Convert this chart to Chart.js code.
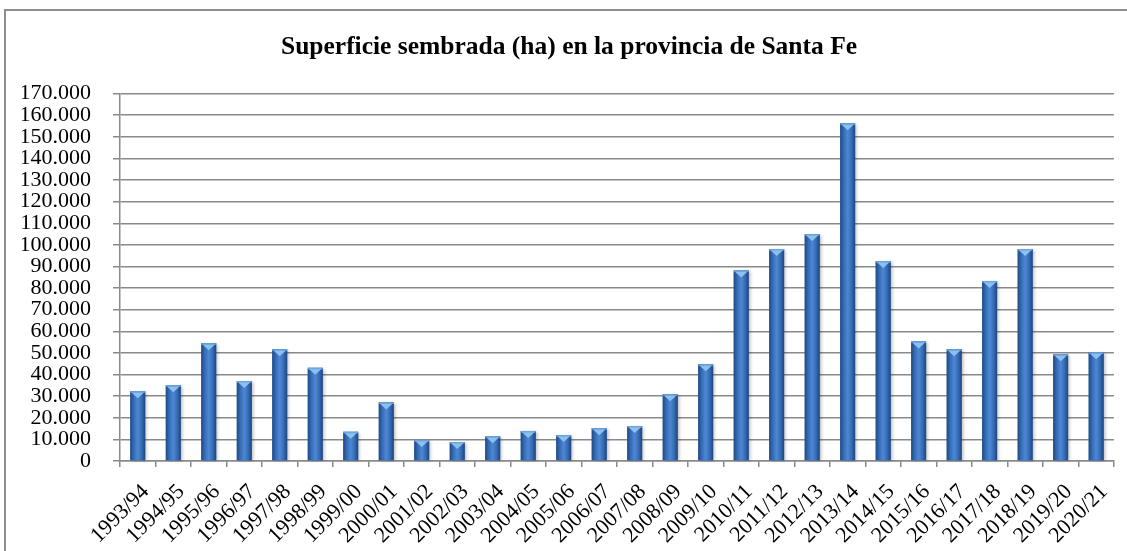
<!DOCTYPE html>
<html lang="es">
<head>
    <meta charset="UTF-8">
    <title>Superficie sembrada</title>
    <script src="https://cdn.jsdelivr.net/npm/chart.js@4.4.1/dist/chart.umd.min.js"></script>
    <style>
        html, body { margin: 0; padding: 0; background: #fff; overflow: hidden; }
        #frame {
            position: absolute; left: 4px; top: 9px; width: 1200px; height: 700px;
            border-left: 2px solid #8e8e8e; border-top: 2px solid #8e8e8e;
        }
        #wrap { position: absolute; left: 0; top: 0; width: 1127px; height: 551px; }
    </style>
</head>
<body>
<div id="frame"></div>
<div id="wrap">
    <canvas id="superficie" width="1127" height="551"></canvas>
</div>
<script>
    var campanias = ["1993/94", "1994/95", "1995/96", "1996/97", "1997/98", "1998/99", "1999/00",
        "2000/01", "2001/02", "2002/03", "2003/04", "2004/05", "2005/06", "2006/07", "2007/08",
        "2008/09", "2009/10", "2010/11", "2011/12", "2012/13", "2013/14", "2014/15", "2015/16",
        "2016/17", "2017/18", "2018/19", "2019/20", "2020/21"];
    var hectareas = [32300, 35100, 54500, 37000, 51700, 43100, 13500,
        27100, 9700, 8800, 11500, 13900, 12000, 15200, 16200,
        30900, 44800, 88200, 98100, 105000, 156300, 92500, 55300,
        51700, 83300, 98100, 49400, 50300];
    var yMax = 170000;
    var yStep = 10000;

    function puntos(v) {
        return String(v).replace(/\B(?=(\d{3})+(?!\d))/g, ".");
    }

    // bar shading: horizontal gradient + light triangle on top
    var barShading = {
        id: 'barShading',
        afterDatasetsDraw: function (chart) {
            var ctx = chart.ctx;
            var meta = chart.getDatasetMeta(0);
            meta.data.forEach(function (bar) {
                var left = bar.x - bar.width / 2;
                var right = bar.x + bar.width / 2;
                var top = bar.y;
                var bottom = bar.base;
                ctx.save();
                ctx.shadowColor = 'rgba(0,0,0,0.25)';
                ctx.shadowOffsetX = 2;
                ctx.shadowOffsetY = 1;
                ctx.shadowBlur = 3;
                var g = ctx.createLinearGradient(left, 0, right, 0);
                g.addColorStop(0, '#1f4a86');
                g.addColorStop(0.25, '#386db7');
                g.addColorStop(0.5, '#4d88d4');
                g.addColorStop(0.75, '#386db7');
                g.addColorStop(1, '#1d467f');
                ctx.fillStyle = g;
                ctx.fillRect(left, top, right - left, bottom - top);
                ctx.restore();

                ctx.save();
                var tri = Math.min(7, bottom - top);
                ctx.fillStyle = '#8cc0ee';
                ctx.beginPath();
                ctx.moveTo(left + 1, top + 1);
                ctx.lineTo(right - 1, top + 1);
                ctx.lineTo(bar.x, top + tri);
                ctx.closePath();
                ctx.fill();
                ctx.fillStyle = '#6fa6e0';
                ctx.fillRect(left, top, right - left, 1.5);
                ctx.restore();
            });
        }
    };

    var ctx = document.getElementById('superficie').getContext('2d');
    var chart = new Chart(ctx, {
        type: 'bar',
        data: {
            labels: campanias,
            datasets: [{
                label: 'Superficie sembrada (ha)',
                data: hectareas,
                backgroundColor: '#386db7',
                borderWidth: 0,
                categoryPercentage: 1,
                barPercentage: 0.42
            }]
        },
        options: {
            responsive: false,
            animation: false,
            layout: { padding: { left: 22, right: 11, top: 0, bottom: 0 } },
            plugins: {
                legend: { display: false },
                tooltip: { enabled: false },
                title: {
                    display: true,
                    text: 'Superficie sembrada (ha) en la provincia de Santa Fe',
                    color: '#000',
                    font: { family: 'Liberation Serif', size: 25.5, weight: 'bold' },
                    padding: { top: 32, bottom: 31 }
                }
            },
            scales: {
                x: {
                    afterFit: function (scale) { scale.height = 90; },
                    grid: {
                        offset: true,
                        drawOnChartArea: false,
                        drawTicks: true,
                        tickLength: 6,
                        color: '#8a8a8a',
                        lineWidth: 1.5
                    },
                    border: { display: true, color: '#8a8a8a', width: 1.5 },
                    ticks: {
                        color: '#000',
                        font: { family: 'Liberation Serif', size: 22 },
                        minRotation: 45,
                        maxRotation: 45,
                        autoSkip: false,
                        padding: 12,
                        labelOffset: 8
                    }
                },
                y: {
                    min: 0,
                    max: yMax,
                    afterFit: function (scale) { scale.width = 98; },
                    grid: {
                        color: '#8a8a8a',
                        lineWidth: 1.5,
                        tickLength: 7
                    },
                    border: { display: true, color: '#8a8a8a', width: 1.5 },
                    ticks: {
                        stepSize: yStep,
                        autoSkip: false,
                        color: '#000',
                        padding: 22,
                        font: { family: 'Liberation Serif', size: 22 },
                        callback: function (v) { return puntos(v); }
                    }
                }
            }
        },
        plugins: [barShading]
    });
</script>
</body>
</html>
